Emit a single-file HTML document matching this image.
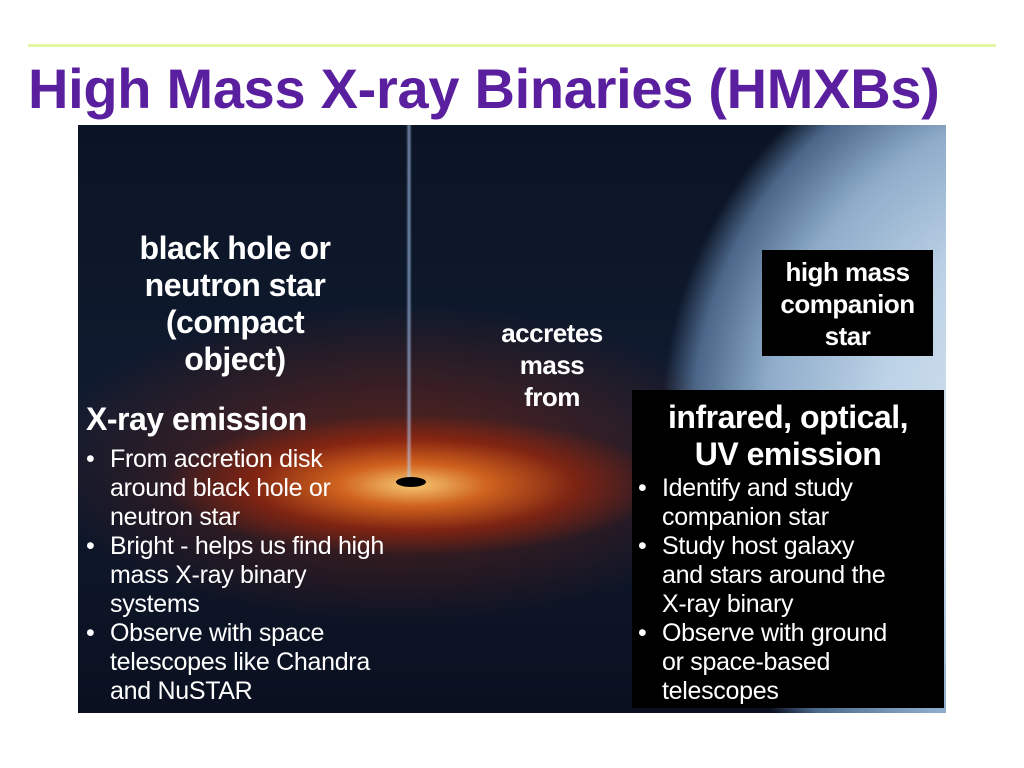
<!DOCTYPE html>
<html><head><meta charset="utf-8"><style>
*{margin:0;padding:0;box-sizing:border-box}
body{width:1024px;height:768px;background:#fff;position:relative;overflow:hidden;font-family:"Liberation Sans",sans-serif;font-weight:bold;color:#fff}
.abs{position:absolute}
#rule{left:28px;top:44px;width:968px;height:3px;background:#e2f8a8}
#title{left:28px;top:56px;font-size:56px;color:#5a1f9e;letter-spacing:-0.3px;white-space:nowrap}
#img{left:78px;top:125px;width:868px;height:588px;overflow:hidden;
background:
radial-gradient(ellipse 250px 70px at 335px 360px, rgba(255,210,120,0.95), rgba(230,110,30,0.85) 30%, rgba(170,40,10,0.6) 65%, rgba(80,10,0,0) 100%),
radial-gradient(ellipse 360px 160px at 320px 340px, rgba(150,40,10,0.6), rgba(60,10,10,0) 100%),
radial-gradient(circle 520px at 1010px 300px, #e4eef6 0%, #bcd2e6 40%, #8eacca 62%, #4a6688 76%, rgba(10,20,40,0) 82%),
linear-gradient(180deg,#0b1424,#101b30 50%,#0a1020);}
#jet{left:328px;top:0;width:6px;height:360px;background:linear-gradient(90deg,rgba(120,160,220,0),rgba(180,210,255,0.6),rgba(120,160,220,0))}
#bhole{left:318px;top:352px;width:30px;height:10px;border-radius:50%;background:#000}
.t{text-align:center;line-height:37px;font-size:32px;letter-spacing:-0.5px;white-space:nowrap}
#bh{left:95px;top:230px;width:280px}
#acc{left:477px;top:317px;width:150px;font-size:26px;line-height:32px}
#hm{left:762px;top:250px;width:171px;height:106px;background:#000;font-size:26px;line-height:32px;padding-top:6px}
#rbox{left:632px;top:390px;width:312px;height:318px;background:#000}
#xr{left:86px;top:401px;font-size:32px;letter-spacing:-0.5px}
ul{list-style:none;font-size:25px;line-height:29px;font-weight:normal;letter-spacing:-0.3px;white-space:nowrap}
li{position:relative;padding-left:24px}
li:before{content:"•";position:absolute;left:0}
#lul{left:86px;top:445px;width:330px}
#ir{left:632px;top:399px;width:312px;font-size:32px;line-height:37px}
#rul{left:638px;top:474px;width:300px}
</style></head><body>
<div id="rule" class="abs"></div>
<div id="title" class="abs">High Mass X-ray Binaries (HMXBs)</div>
<div id="img" class="abs">
<div id="jet" class="abs"></div>
<div id="bhole" class="abs"></div>
</div>
<div id="bh" class="abs t">black hole or<br>neutron star<br>(compact<br>object)</div>
<div id="acc" class="abs t">accretes<br>mass<br>from</div>
<div id="hm" class="abs t">high mass<br>companion<br>star</div>
<div id="rbox" class="abs"></div>
<div id="xr" class="abs">X-ray emission</div>
<ul id="lul" class="abs">
<li>From accretion disk<br>around black hole or<br>neutron star</li>
<li>Bright - helps us find high<br>mass X-ray binary<br>systems</li>
<li>Observe with space<br>telescopes like Chandra<br>and NuSTAR</li>
</ul>
<div id="ir" class="abs t">infrared, optical,<br>UV emission</div>
<ul id="rul" class="abs">
<li>Identify and study<br>companion star</li>
<li>Study host galaxy<br>and stars around the<br>X-ray binary</li>
<li>Observe with ground<br>or space-based<br>telescopes</li>
</ul>
</body></html>
